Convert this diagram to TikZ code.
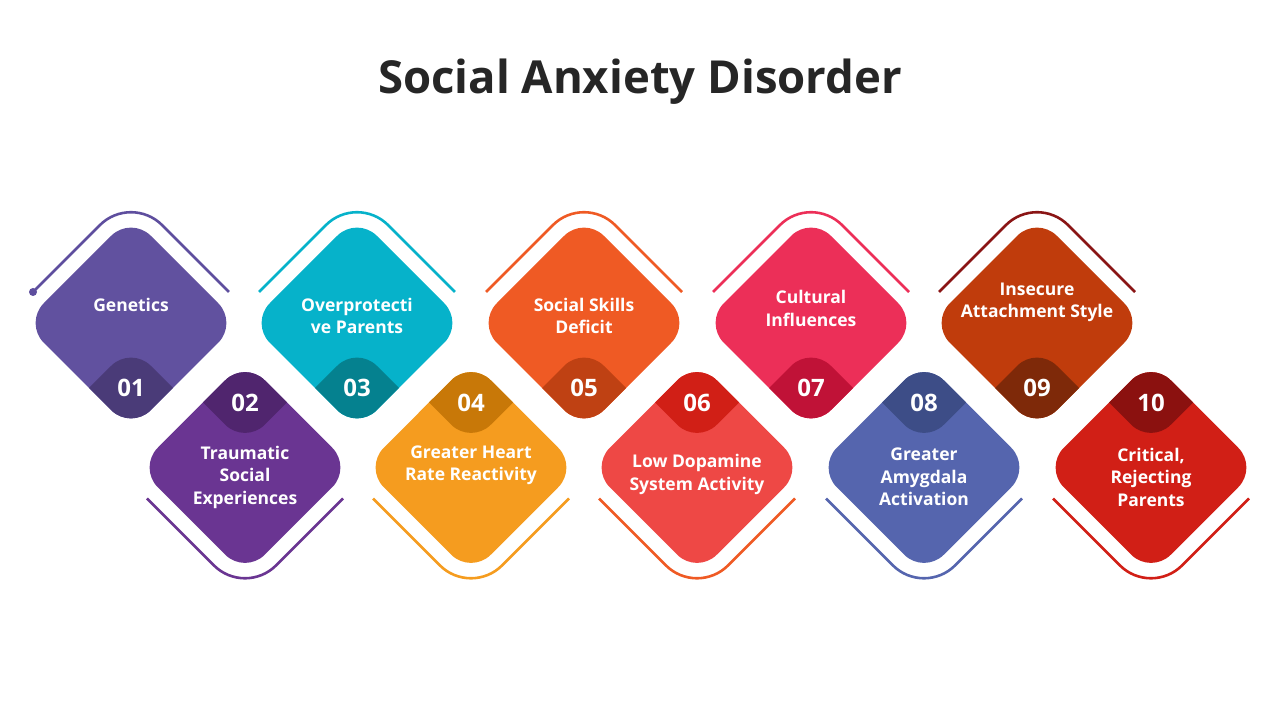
\documentclass[tikz,border=0pt]{standalone}
\usepackage{fontspec}
\setmainfont{Open Sans}
\usetikzlibrary{positioning}
\definecolor{ink}{HTML}{262626}
\definecolor{c1}{HTML}{61519F}\definecolor{darkc1}{HTML}{4A3B78}\definecolor{rimc1}{HTML}{5E4E9E}
\definecolor{c2}{HTML}{6A3592}\definecolor{darkc2}{HTML}{50256E}\definecolor{rimc2}{HTML}{6A3592}
\definecolor{c3}{HTML}{06B2CA}\definecolor{darkc3}{HTML}{05818F}\definecolor{rimc3}{HTML}{06B2CA}
\definecolor{c4}{HTML}{F59C1F}\definecolor{darkc4}{HTML}{C87808}\definecolor{rimc4}{HTML}{F59C1F}
\definecolor{c5}{HTML}{EF5A24}\definecolor{darkc5}{HTML}{BF4113}\definecolor{rimc5}{HTML}{EF5A24}
\definecolor{c6}{HTML}{EE4845}\definecolor{darkc6}{HTML}{D11F16}\definecolor{rimc6}{HTML}{EF5A24}
\definecolor{c7}{HTML}{EC2F58}\definecolor{darkc7}{HTML}{C01237}\definecolor{rimc7}{HTML}{EC2F58}
\definecolor{c8}{HTML}{5565AE}\definecolor{darkc8}{HTML}{3D4D87}\definecolor{rimc8}{HTML}{5565AE}
\definecolor{c9}{HTML}{C03C0C}\definecolor{darkc9}{HTML}{7E2909}\definecolor{rimc9}{HTML}{8A1515}
\definecolor{c10}{HTML}{D11F16}\definecolor{darkc10}{HTML}{8B110F}\definecolor{rimc10}{HTML}{D11F16}
\newcommand{\gempath}{(\x-53.5,\y+53.5) -- (\x,\y+\h) -- (\x+\h,\y) -- (\x,\y-\h) -- (\x-\h,\y) -- cycle}

\begin{document}
\begin{tikzpicture}[x=1pt,y=1pt,
  lab/.style={text=white,font=\bfseries\fontsize{17.5}{22.5}\selectfont,align=center},
  num/.style={text=white,font=\bfseries\fontsize{24}{28}\selectfont},
  rim/.style={line width=2.6pt,rounded corners=44pt}]
  \def\h{107}% half diagonal of a diamond, in px
  \useasboundingbox (0,0) rectangle (1280,720);
  \node[text=ink,font=\bfseries\fontsize{45.5}{52}\selectfont] (title) at (640,638) {Social Anxiety Disorder};
  % top row: s=1, bottom row: s=-1
  \foreach \n/\x/\y/\s/\ly/\lab/\col in {
    01/131/397/1/415/{Genetics}/c1,
    02/245/252.5/-1/243/{Traumatic\\Social\\Experiences}/c2,
    03/357/397/1/404/{Overprotecti\\ve Parents}/c3,
    04/471/252.5/-1/254.5/{Greater Heart\\Rate Reactivity}/c4,
    05/584/397/1/404/{Social Skills\\Deficit}/c5,
    06/697/252.5/-1/245.5/{Low Dopamine\\System Activity}/c6,
    07/811/397/1/411.5/{Cultural\\Influences}/c7,
    08/924/252.5/-1/243/{Greater\\Amygdala\\Activation}/c8,
    09/1037/397/1/417.5/{Insecure\\Attachment Style}/c9,
    10/1151/252.5/-1/243/{Critical,\\Rejecting\\Parents}/c10}
  {
    \fill[\col,rounded corners=28pt] \gempath;
    \begin{scope}
      \clip[rounded corners=28pt] \gempath;
      \fill[dark\col,rounded corners=28pt,yshift=-130*\s] \gempath;
    \end{scope}
    \draw[rim,rim\col] (\x-98,\y+31*\s) -- (\x,\y+129*\s) -- (\x+98,\y+31*\s);
    \node[num] (n\n) at (\x,\y-65*\s) {\n};
    \node[lab] (l\n) at (\x,\ly) {\lab};
  }
  \coordinate (tail) at (33,428);
  \fill[rimc1] (tail) circle (4pt);
\end{tikzpicture}
\end{document}
